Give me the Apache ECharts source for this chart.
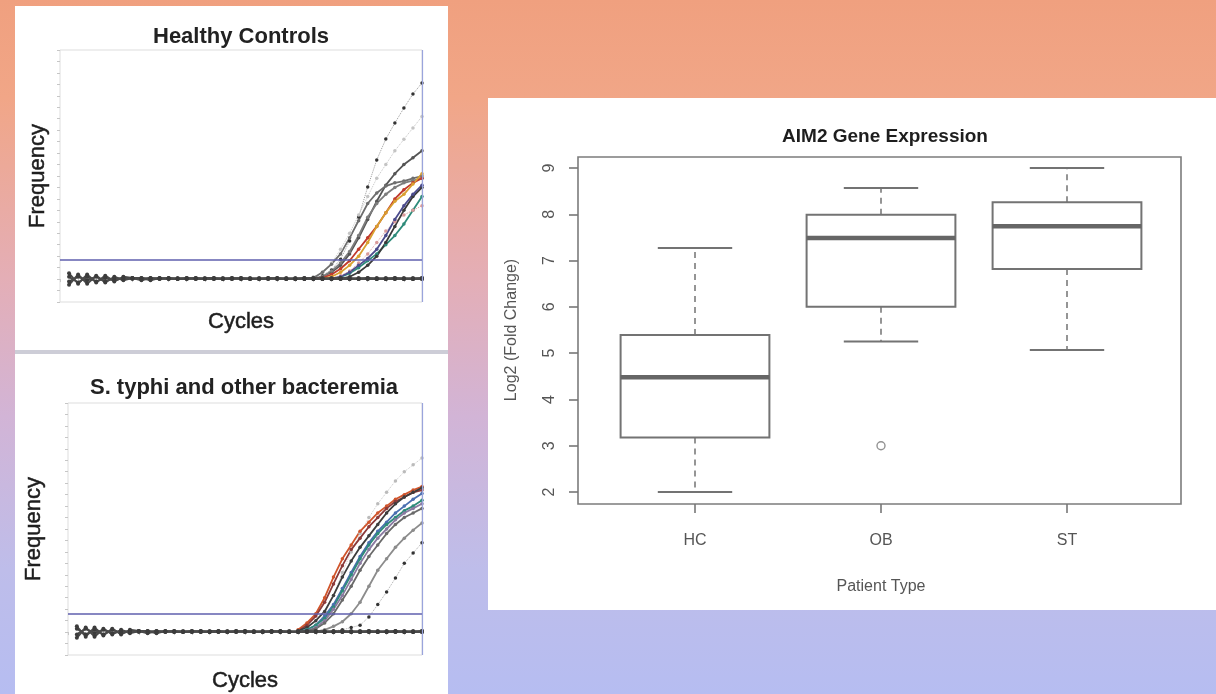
<!DOCTYPE html>
<html>
<head>
<meta charset="utf-8">
<script src="https://cdn.jsdelivr.net/npm/echarts@6/dist/echarts.min.js"></script>
<style>
  html, body { margin: 0; padding: 0; }
  #stage {
    position: relative; width: 1216px; height: 694px; overflow: hidden;
    background: linear-gradient(180deg, #f0a07f 0%, #f1a687 14%, #e4aeb6 40%, #d2b4d6 60%, #bebdea 82%, #b6bdf1 100%);
  }
  .panel { position: absolute; background: #fff; }
  #chart { position: absolute; left: 0; top: 0; width: 1216px; height: 694px; }
</style>
</head>
<body>
<div id="stage">
  <div class="panel" style="left:15px;top:6px;width:433px;height:344px;"></div>
  <div class="panel" style="left:15px;top:350px;width:433px;height:4px;background:#cdcdd7;"></div>
  <div class="panel" style="left:15px;top:354px;width:433px;height:340px;"></div>
  <div class="panel" style="left:488px;top:98px;width:728px;height:512px;"></div>
  <div id="chart"></div>
</div>
<script>
// ---- boxplot data (AIM2 gene expression, log2 fold change) ----
const groups = ['HC', 'OB', 'ST'];
const boxMin = [2.0, 5.25, 5.07];
const boxQ1 = [3.18, 6.0, 6.82];
const boxMedian = [4.48, 7.49, 7.74];
const boxQ3 = [5.39, 7.99, 8.26];
const boxMax = [7.27, 8.57, 9.0];
const outliers = [[1, 3.0]]; // OB

// ---- amplification plots: baselines cover cycles 1..40 ----
const hcBase1 = [0.25,-0.2,0.2,-0.15,0.15,-0.1,0.1,0.05,0,0.05,0,0.05,0,0.05,0,0.05,0.05,0,0.05,0,0.05,0,0.05,0,0.05,0,0.05,0,0.05,0,0.05,0,0.05,0,0.05,0,0.05,0,0.05,0];
const hcBase2 = [-0.25,0.2,-0.2,0.15,-0.15,0.1,-0.05,0.05,0.05,0,0.05,0,0.05,0,0.05,0,0,0.05,0,0.05,0,0.05,0,0.05,0,0.05,0,0.05,0,0.05,0,0.05,0,0.05,0,0.05,0,0.05,0,0.05];
const hcBase3 = [0.1,-0.15,0.1,-0.1,0.05,-0.05,0.05,0,0.05,-0.05,0.05,0,0,0,0.05,0,0,0,0.05,0,0,0,0.05,0,0,0,0.05,0,0,0,0,0,0,0,0,0,0,0,0,0];
const hcBase4 = [-0.1,0.1,-0.05,0.1,-0.1,0.05,0,0.05,-0.05,0.05,0,0.05,0,0.05,0,0,0.05,0,0,0.05,0,0,0,0.05,0,0,0,0.05,0,0,0.05,0,0,0.05,0,0,0.05,0,0,0.05];
const stBase1 = [0.25,-0.2,0.2,-0.15,0.15,-0.1,0.1,0.05,0,0.05,0,0.05,0,0.05,0,0.05,0.05,0,0.05,0,0.05,0,0.05,0,0.05,0,0.05,0,0.05,0,0.05,0,0.05,0,0.05,0,0.05,0,0.05,0];
const stBase2 = [-0.25,0.2,-0.2,0.15,-0.1,0.1,-0.05,0.05,0.05,0,0.05,0,0.05,0,0.05,0,0,0.05,0,0.05,0,0.05,0,0.05,0,0.05,0,0.05,0,0.05,0,0.05,0,0.05,0,0.05,0,0.05,0,0.05];
const stBase3 = [0.15,-0.1,0.1,-0.1,0.1,-0.05,0.05,0,0.05,-0.05,0.05,0,0,0,0.05,0,0,0,0.05,0,0,0,0.05,0,0,0,0.05,0,0,0,0,0,0,0,0,0,0,0,0,0];
const stBase4 = [-0.1,0.15,-0.05,0.1,-0.05,0.05,0,0.05,-0.05,0.05,0,0.05,0,0.05,0,0,0.05,0,0,0.05,0,0,0,0.05,0,0,0,0.05,0,0,0.05,0,0,0.05,0,0,0.05,0,0,0.05];

// amplifying wells, cycles 26..40
const curveStart = 26;
const hcCurves = [
  { color: '#9a9a9a', dotted: true, dot: '#333', y: [0,0.02,0.05,0.15,0.4,0.87,1.66,2.71,4.02,5.2,6.11,6.81,7.47,8.08,8.56] },
  { color: '#c4c4c4', dotted: true, dot: '#c4c4c4', y: [0,0.02,0.1,0.3,0.7,1.3,2.0,2.8,3.6,4.4,5.0,5.6,6.1,6.6,7.1] },
  { color: '#555555', y: [0,0,0.02,0.1,0.3,0.6,1.1,1.8,2.6,3.4,4.1,4.6,5.0,5.3,5.6] },
  { color: '#6e6e6e', y: [0,0.02,0.05,0.3,0.65,1.1,1.8,2.55,3.3,3.76,4.06,4.2,4.28,4.4,4.5] },
  { color: '#7d7d7d', y: [0,0,0.02,0.1,0.35,0.7,1.2,1.9,2.7,3.3,3.7,4.0,4.2,4.3,4.4] },
  { color: '#c0392b', y: [0,0,0.02,0.05,0.2,0.45,0.8,1.3,1.8,2.3,2.9,3.5,3.9,4.2,4.4] },
  { color: '#d9a030', y: [0,0,0,0.02,0.1,0.3,0.6,1.0,1.6,2.3,2.9,3.4,3.7,4.15,4.6] },
  { color: '#2e8b7a', y: [0,0,0,0,0.02,0.1,0.25,0.5,0.8,1.1,1.5,1.9,2.4,3.0,3.6] },
  { color: '#d99a9a', dotted: true, y: [0,0,0,0,0.05,0.15,0.35,0.7,1.1,1.6,2.1,2.5,2.8,3.0,3.2] },
  { color: '#3a3a3a', y: [0,0,0,0,0,0.02,0.1,0.3,0.6,1.0,1.6,2.3,3.0,3.6,4.0] },
  { color: '#4b4b8c', y: [0,0,0,0,0.02,0.1,0.3,0.6,0.9,1.3,1.9,2.6,3.2,3.7,4.1] }
];
const stCurves = [
  { color: '#c8c8c8', dotted: true, dot: '#bbbbbb', y: [0,0.1,0.3,0.8,1.6,2.6,3.5,4.3,5.0,5.6,6.1,6.6,7.0,7.3,7.6] },
  { color: '#d0552c', y: [0.1,0.4,0.8,1.5,2.4,3.2,3.8,4.4,4.8,5.2,5.5,5.8,6.0,6.2,6.35] },
  { color: '#8b3a3a', y: [0.05,0.3,0.7,1.3,2.1,2.9,3.6,4.1,4.6,5.0,5.4,5.7,5.9,6.1,6.2] },
  { color: '#3d3d3d', y: [0.05,0.2,0.5,0.9,1.6,2.4,3.1,3.7,4.2,4.7,5.2,5.6,5.9,6.1,6.3] },
  { color: '#4a6fb0', y: [0,0.1,0.3,0.7,1.2,1.9,2.6,3.3,3.9,4.4,4.8,5.2,5.5,5.8,6.05] },
  { color: '#2e8b7a', y: [0.02,0.1,0.3,0.6,1.1,1.8,2.5,3.2,3.8,4.3,4.7,5.0,5.3,5.5,5.76] },
  { color: '#8a7aa0', y: [0,0.05,0.2,0.5,1.0,1.6,2.3,3.0,3.6,4.1,4.5,4.9,5.2,5.4,5.6] },
  { color: '#6a6a6a', y: [0,0.05,0.15,0.4,0.8,1.4,2.0,2.7,3.3,3.8,4.3,4.7,5.0,5.2,5.4] },
  { color: '#8c8c8c', y: [0,0,0.02,0.1,0.25,0.45,0.8,1.3,2.0,2.7,3.2,3.7,4.1,4.45,4.76] },
  { color: '#aaaaaa', dotted: true, dot: '#333', y: [0,0,0,0,0.05,0.1,0.2,0.3,0.66,1.2,1.75,2.36,3.0,3.45,3.9] }
];
const hcThreshold = 0.83;
const stThreshold = 0.79;
const lastCycle = 40;

const FONT = "'Liberation Sans', Arial, sans-serif";

function fromStart(values, start) {
  return values.map((v, i) => [start + i, v]);
}

function ampSeries(panel, base, curves, threshold) {
  const out = [];
  base.forEach((b, k) => {
    out.push({
      type: 'line', xAxisIndex: panel, yAxisIndex: panel,
      data: fromStart(b, 1), symbol: 'circle', symbolSize: 4,
      itemStyle: { color: '#3c3c3c' }, lineStyle: { color: '#4a4a4a', width: 2 },
      silent: true, z: 3,
      markLine: k === 0 ? {
        silent: true, symbol: 'none', label: { show: false },
        data: [
          { yAxis: threshold, lineStyle: { color: '#5f5fae', width: 1.6, type: 'solid' } },
          { xAxis: lastCycle, lineStyle: { color: '#9aa4dc', width: 1.2, type: 'solid' } }
        ]
      } : undefined
    });
  });
  curves.forEach(c => {
    out.push({
      type: 'line', xAxisIndex: panel, yAxisIndex: panel,
      data: fromStart(c.y, curveStart), symbol: 'circle', symbolSize: c.dotted ? 3.5 : 3.5,
      itemStyle: { color: c.dot || c.color },
      lineStyle: { color: c.color, width: c.dotted ? 1 : 1.8, type: c.dotted ? 'dotted' : 'solid' },
      silent: true, z: 2
    });
  });
  return out;
}

function renderBox(params, api) {
  const i = api.value(0);
  const band = api.size([1, 0])[0];
  const half = band * 0.4;
  const cap = band * 0.2;
  const pMin = api.coord([i, api.value(1)]);
  const pQ1 = api.coord([i, api.value(2)]);
  const pMed = api.coord([i, api.value(3)]);
  const pQ3 = api.coord([i, api.value(4)]);
  const pMax = api.coord([i, api.value(5)]);
  const cx = pMed[0];
  const stroke = '#737373';
  return {
    type: 'group',
    children: [
      { type: 'line', shape: { x1: cx, y1: pQ3[1], x2: cx, y2: pMax[1] }, style: { stroke, lineWidth: 1.5, lineDash: [6, 5] } },
      { type: 'line', shape: { x1: cx, y1: pQ1[1], x2: cx, y2: pMin[1] }, style: { stroke, lineWidth: 1.5, lineDash: [6, 5] } },
      { type: 'line', shape: { x1: cx - cap, y1: pMax[1], x2: cx + cap, y2: pMax[1] }, style: { stroke, lineWidth: 2 } },
      { type: 'line', shape: { x1: cx - cap, y1: pMin[1], x2: cx + cap, y2: pMin[1] }, style: { stroke, lineWidth: 2 } },
      { type: 'rect', shape: { x: cx - half, y: pQ3[1], width: half * 2, height: pQ1[1] - pQ3[1] }, style: { fill: '#fff', stroke, lineWidth: 2 } },
      { type: 'line', shape: { x1: cx - half, y1: pMed[1], x2: cx + half, y2: pMed[1] }, style: { stroke: '#666', lineWidth: 4.5 } }
    ]
  };
}

const faintTick = { show: true, length: 3, lineStyle: { color: '#c6c6c6' } };
const nameStyle = { fontFamily: FONT, fontSize: 22, color: '#1e1e1e', textBorderColor: '#1e1e1e', textBorderWidth: 0.5 };
const grayText = '#555555';

const chart = echarts.init(document.getElementById('chart'));
chart.setOption({
  animation: false,
  backgroundColor: 'transparent',
  textStyle: { fontFamily: FONT },
  title: [
    { text: 'Healthy Controls', left: 236, top: 21, textAlign: 'center', textStyle: { fontFamily: FONT, fontSize: 22, fontWeight: 'bold', color: '#222' } },
    { text: 'S. typhi and other bacteremia', left: 239, top: 372, textAlign: 'center', textStyle: { fontFamily: FONT, fontSize: 22, fontWeight: 'bold', color: '#222' } },
    { text: 'AIM2 Gene Expression', left: 880, top: 122, textAlign: 'center', textStyle: { fontFamily: FONT, fontSize: 19, fontWeight: 'bold', color: '#1e1e1e' } }
  ],
  grid: [
    { left: 60, top: 50, width: 362, height: 252, show: true, borderColor: '#dddddd', borderWidth: 1, backgroundColor: 'transparent' },
    { left: 68, top: 403, width: 354, height: 252, show: true, borderColor: '#dddddd', borderWidth: 1, backgroundColor: 'transparent' },
    { left: 578, top: 157, width: 603, height: 347, show: true, borderColor: '#7c7c7c', borderWidth: 1.6, backgroundColor: 'transparent' },
    { left: 602, top: 168, width: 558, height: 324 }
  ],
  xAxis: [
    { gridIndex: 0, type: 'value', min: 0, max: lastCycle, interval: 2, axisLine: { show: false }, splitLine: { show: false },
      axisTick: faintTick, axisLabel: { show: false },
      name: 'Cycles', nameLocation: 'middle', nameGap: 9, nameTextStyle: nameStyle },
    { gridIndex: 1, type: 'value', min: 0, max: lastCycle, interval: 2, axisLine: { show: false }, splitLine: { show: false },
      axisTick: faintTick, axisLabel: { show: false },
      name: 'Cycles', nameLocation: 'middle', nameGap: 15, nameTextStyle: nameStyle },
    { gridIndex: 2, type: 'value', min: 0, max: 1, show: false },
    { gridIndex: 3, type: 'category', data: groups, offset: 12,
      axisLine: { show: false }, splitLine: { show: false },
      axisTick: { show: true, length: 9, alignWithLabel: true, lineStyle: { color: '#777', width: 1.6 } },
      axisLabel: { margin: 29, fontSize: 16, color: grayText, fontFamily: FONT },
      name: 'Patient Type', nameLocation: 'middle', nameGap: 75,
      nameTextStyle: { fontFamily: FONT, fontSize: 16, color: grayText } }
  ],
  yAxis: [
    { gridIndex: 0, type: 'value', min: -1, max: 10, interval: 0.5, axisLine: { show: false }, splitLine: { show: false },
      axisTick: faintTick, axisLabel: { show: false },
      name: 'Frequency', nameLocation: 'middle', nameRotate: 90, nameGap: 11, nameTextStyle: nameStyle },
    { gridIndex: 1, type: 'value', min: -1, max: 10, interval: 0.5, axisLine: { show: false }, splitLine: { show: false },
      axisTick: faintTick, axisLabel: { show: false },
      name: 'Frequency', nameLocation: 'middle', nameRotate: 90, nameGap: 23, nameTextStyle: nameStyle },
    { gridIndex: 2, type: 'value', min: 0, max: 1, show: false },
    { gridIndex: 3, type: 'value', min: 2, max: 9, interval: 1, offset: 24,
      axisLine: { show: false }, splitLine: { show: false },
      axisTick: { show: true, length: 9, lineStyle: { color: '#777', width: 1.6 } },
      axisLabel: { rotate: 90, margin: 20, fontSize: 16, color: grayText, fontFamily: FONT },
      name: 'Log2 (Fold Change)', nameLocation: 'middle', nameRotate: 90, nameGap: 58,
      nameTextStyle: { fontFamily: FONT, fontSize: 16, color: grayText } }
  ],
  series: [
    ...ampSeries(0, [hcBase1, hcBase2, hcBase3, hcBase4], hcCurves, hcThreshold),
    ...ampSeries(1, [stBase1, stBase2, stBase3, stBase4], stCurves, stThreshold),
    {
      type: 'custom', xAxisIndex: 3, yAxisIndex: 3,
      renderItem: renderBox,
      encode: { x: 0, y: [1, 2, 3, 4, 5] },
      data: groups.map((g, i) => [i, boxMin[i], boxQ1[i], boxMedian[i], boxQ3[i], boxMax[i]]),
      silent: true
    },
    {
      type: 'scatter', xAxisIndex: 3, yAxisIndex: 3,
      data: outliers, symbol: 'circle', symbolSize: 8,
      itemStyle: { color: '#fff', borderColor: '#777', borderWidth: 1.4 },
      silent: true
    }
  ]
});
</script>
</body>
</html>
